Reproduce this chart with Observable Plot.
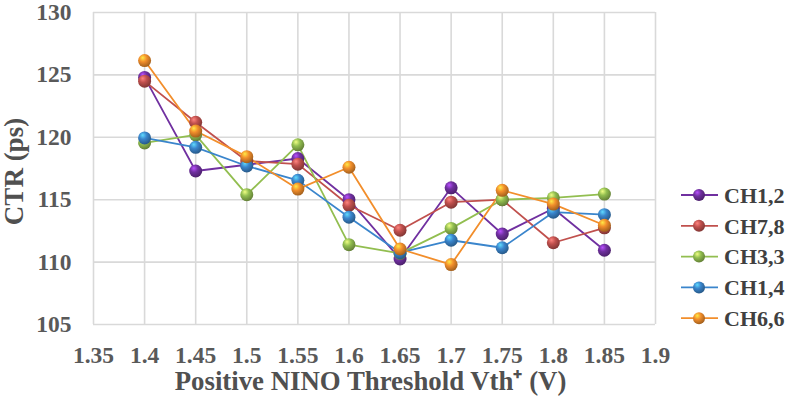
<!DOCTYPE html>
<html><head><meta charset="utf-8">
<script src="https://cdn.jsdelivr.net/npm/d3@7"></script>
<script src="https://cdn.jsdelivr.net/npm/@observablehq/plot@0.6"></script>
<style>
body{margin:0;background:#fff;}
#wrap{position:relative;width:790px;height:408px;}
</style></head><body><div id="wrap"></div>
<script>
const thresholds = [1.4, 1.45, 1.5, 1.55, 1.6, 1.65, 1.7, 1.75, 1.8, 1.85];
const ch12 = [124.8, 117.3, 117.8, 118.3, 115.0, 110.25, 115.95, 112.25, 114.3, 110.95];
const ch78 = [124.5, 121.2, 118.1, 117.85, 114.55, 112.55, 114.8, 115.0, 111.55, 112.75];
const ch33 = [119.55, 120.2, 115.4, 119.4, 111.4, 110.7, 112.7, 115.0, 115.15, 115.45];
const ch14 = [119.95, 119.2, 117.7, 116.55, 113.6, 110.75, 111.75, 111.15, 114.0, 113.8];
const ch66 = [126.15, 120.5, 118.45, 115.85, 117.6, 111.05, 109.8, 115.75, 114.65, 112.95];
const seriesNames = ["CH1,2", "CH7,8", "CH3,3", "CH1,4", "CH6,6"];
const seriesValues = [ch12, ch78, ch33, ch14, ch66];
const seriesColors = ["#7030A0", "#C0504D", "#92BE50", "#3A85CC", "#F28E2B"];
const xTicks = [1.35, 1.4, 1.45, 1.5, 1.55, 1.6, 1.65, 1.7, 1.75, 1.8, 1.85, 1.9];
const yTicks = [105, 110, 115, 120, 125, 130];
const xTitle = "Positive NINO Threshold Vth\u207A (V)";
const yTitle = "CTR (ps)";

const rows = [];
seriesNames.forEach((s, i) => seriesValues[i].forEach((v, j) => rows.push({series: s, x: thresholds[j], y: v})));

const font = "'Liberation Serif', 'Times New Roman', serif";
const gradId = i => `url(#ball${i})`;

const marks = [
  Plot.gridX(xTicks, {stroke: "#d9d9d9", strokeOpacity: 1, strokeWidth: 1.6}),
  Plot.gridY(yTicks, {stroke: "#d9d9d9", strokeOpacity: 1, strokeWidth: 1.6}),
  Plot.axisX({ticks: xTicks, tickSize: 0, tickPadding: 22, label: null,
    tickFormat: d => String(+d.toFixed(2)), fontSize: 23.5, fontWeight: "bold", fill: "#595959"}),
  Plot.axisY({ticks: yTicks, tickSize: 0, tickPadding: 22, label: null,
    fontSize: 23.5, fontWeight: "bold", fill: "#595959"}),
  Plot.text([yTitle], {text: d => d, frameAnchor: "left", textAnchor: "middle", lineAnchor: "middle",
    dx: -79, dy: 3, rotate: -90, fontSize: 27, fontWeight: "bold", fill: "#505050"}),
  Plot.text([xTitle], {text: d => d, frameAnchor: "bottom", textAnchor: "middle", lineAnchor: "middle",
    dy: 57, dx: -4, fontSize: 26.8, fontWeight: "bold", fill: "#505050"})
];
seriesNames.forEach((s, i) => {
  const data = rows.filter(r => r.series === s);
  marks.push(Plot.line(data, {x: "x", y: "y", stroke: seriesColors[i], strokeWidth: 1.8}));
});
seriesNames.forEach((s, i) => {
  const data = rows.filter(r => r.series === s);
  marks.push(Plot.dot(data, {x: "x", y: "y", r: 6.5, fill: gradId(i), stroke: "none"}));
});

const chart = Plot.plot({
  width: 790, height: 408,
  marginLeft: 93, marginRight: 135, marginTop: 12, marginBottom: 84,
  x: {domain: [1.35, 1.9]},
  y: {domain: [105, 130]},
  style: {fontFamily: font, background: "#fff", overflow: "visible"},
  marks
});

const svg = d3.select(chart);
const defs = svg.insert("defs", ":first-child");
seriesColors.forEach((c, i) => {
  const g = defs.append("radialGradient").attr("id", `ball${i}`)
    .attr("cx", "40%").attr("cy", "35%").attr("r", "65%").attr("fx", "35%").attr("fy", "28%");
  g.append("stop").attr("offset", "0%").attr("stop-color", d3.color(c).brighter(1.4));
  g.append("stop").attr("offset", "45%").attr("stop-color", c);
  g.append("stop").attr("offset", "100%").attr("stop-color", d3.color(c).darker(1.1));
});

// legend on the right
const leg = svg.append("g").attr("font-family", font).attr("font-weight", "bold")
  .attr("font-size", 22).attr("fill", "#404040").attr("text-anchor", "start");
seriesNames.forEach((s, i) => {
  const y = 195 + i * 30.8;
  leg.append("line").attr("x1", 681).attr("x2", 718).attr("y1", y).attr("y2", y)
    .attr("stroke", seriesColors[i]).attr("stroke-width", 1.8);
  leg.append("circle").attr("cx", 699).attr("cy", y).attr("r", 6).attr("fill", gradId(i));
  leg.append("text").attr("x", 724).attr("y", y).attr("dy", "0.35em").text(s);
});

document.getElementById("wrap").appendChild(chart);
</script></body></html>
